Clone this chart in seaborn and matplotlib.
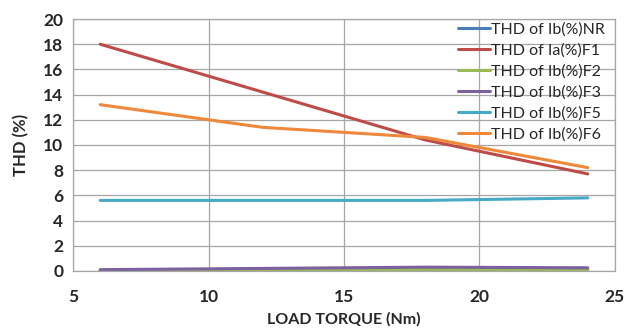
import matplotlib
matplotlib.use("Agg")
import matplotlib.pyplot as plt
import seaborn as sns
import pandas as pd

# load torque points (Nm)
torque = [6, 12, 18, 24]

thd_nr = [0.03, 0.05, 0.06, 0.05]
thd_f1 = [18.0, 14.2, 10.4, 7.7]
thd_f2 = [0.05, 0.08, 0.12, 0.10]
thd_f3 = [0.10, 0.20, 0.30, 0.25]
thd_f5 = [5.6, 5.6, 5.6, 5.8]
thd_f6 = [13.2, 11.4, 10.6, 8.2]

labels = ["THD of Ib(%)NR", "THD of Ia(%)F1", "THD of Ib(%)F2",
          "THD of Ib(%)F3", "THD of Ib(%)F5", "THD of Ib(%)F6"]
colors = ["#4a7ebb", "#be4b48", "#98b954", "#7d60a0", "#46aac5", "#f0883a"]

df = pd.DataFrame([
    {"torque": t, "thd": v, "series": lab}
    for lab, vals in zip(labels, [thd_nr, thd_f1, thd_f2, thd_f3, thd_f5, thd_f6])
    for t, v in zip(torque, vals)
])

sns.set_style("white")
plt.rcParams["font.family"] = ["Lato", "DejaVu Sans"]

fig = plt.figure(figsize=(6.3, 3.28), dpi=100)
ax = fig.add_axes([0.116, 0.174, 0.86, 0.768])

sns.lineplot(data=df, x="torque", y="thd", hue="series", hue_order=labels,
             palette=colors, linewidth=2.2, ax=ax, legend=True)

ax.set_xlim(5, 25)
ax.set_ylim(0, 20)
ax.set_xticks([5, 10, 15, 20, 25])
ax.set_yticks(range(0, 21, 2))
ax.grid(True, color="#a6a6a6", linewidth=0.9)
for s in ax.spines.values():
    s.set_color("#a6a6a6")
    s.set_linewidth(0.9)
ax.tick_params(axis="both", direction="out", length=4, color="#a6a6a6",
               labelsize=12.5, pad=3)
for lab in ax.get_xticklabels() + ax.get_yticklabels():
    lab.set_fontweight("bold")
ax.tick_params(axis="x", pad=9)

ax.set_xlabel("LOAD TORQUE (Nm)", fontsize=11.5, fontweight="bold", labelpad=5)
ax.set_ylabel("THD (%)", fontsize=12, fontweight="bold", labelpad=10)

ax.legend(title=None, loc="upper right", bbox_to_anchor=(1.0, 1.025),
          frameon=False, fontsize=11.5, handlelength=2.0, handletextpad=0.1,
          labelspacing=0.42, borderaxespad=0.2)

fig.savefig("out.png", dpi=100)
